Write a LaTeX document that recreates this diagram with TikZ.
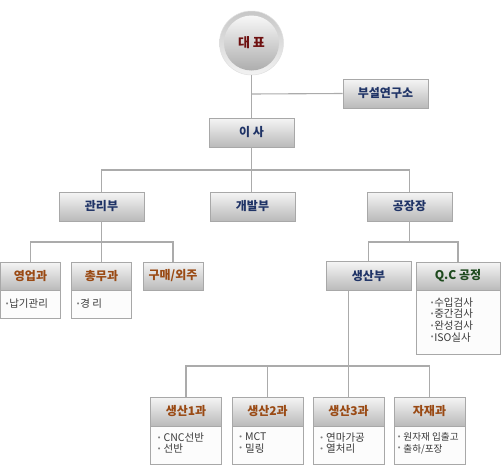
\documentclass[tikz,border=0pt]{standalone}
\usepackage{fontspec}
\setmainfont{Noto Sans CJK KR}
\newfontfamily\symf{DejaVu Sans}
\definecolor{navy}{HTML}{1F3366}
\definecolor{brownt}{HTML}{9A4A14}
\definecolor{greent}{HTML}{1E4A1E}
\definecolor{redt}{HTML}{6E1010}
\definecolor{linegray}{HTML}{ABABAB}
\definecolor{boxborder}{HTML}{A8A8A8}
\definecolor{bodytext}{HTML}{3A3A3A}
\newcommand{\bul}{{\color{gray}\symf\fontsize{7}{7}\selectfont\raisebox{0.35ex}{•}}}
\tikzset{
  conn/.style={draw=linegray, line width=1.1pt},
  hbox/.style={draw=boxborder, line width=0.9pt, top color=white!96!black, bottom color=white!73!black,
    inner sep=0pt, font=\fontsize{12}{14}\selectfont\bfseries},
  mainbox/.style={hbox, minimum width=85pt, minimum height=29pt, text=navy},
  subhead/.style={hbox, minimum width=60pt, minimum height=28pt, text=brownt},
  prodhead/.style={hbox, minimum width=71pt, minimum height=29pt, text=brownt},
  bodybox/.style={draw=boxborder, line width=0.9pt, fill=white!99!black, inner sep=0pt},
  bodytxt/.style={inner sep=0pt, anchor=north west, align=left, text=bodytext,
    font=\fontsize{10.5}{11.6}\selectfont},
}
\begin{document}
\begin{tikzpicture}[x=1pt,y=-1pt]
\useasboundingbox (0,0) rectangle (501,474);
\fill[white] (0,0) rectangle (501,474);

% representative circle
\node[circle, minimum size=64pt, inner sep=0pt, top color=white!78!black, bottom color=white!95!black,
  draw=white!88!black, line width=0.5pt] (rep) at (251.5,43) {};
\node[circle, minimum size=55pt, inner sep=0pt, top color=white!97!black, bottom color=white!68!black,
  font=\fontsize{13}{15}\selectfont\bfseries, text=redt] (repin) at (251.5,43) {대 표};

% main boxes
\node[mainbox] (lab) at (385.5,93.5) {부설연구소};
\node[mainbox] (isa) at (251.5,132.5) {이 사};
\node[mainbox] (gwan) at (101.5,206.5) {관리부};
\node[mainbox] (gaebal) at (252.5,206.5) {개발부};
\node[mainbox] (gong) at (409.5,206.5) {공장장};

% 관리부 children
\node[bodybox, minimum width=60pt, minimum height=28pt] (yeongupb) at (30.5,304) {};
\node[subhead] (yeongup) at (30.5,276) {영업과};
\node[bodytxt, anchor=west] (yeongupt) at (5,304) {\bul 납기관리};

\node[bodybox, minimum width=60pt, minimum height=28pt] (chongmub) at (101.5,304) {};
\node[subhead] (chongmu) at (101.5,276) {총무과};
\node[bodytxt, anchor=west] (chongmut) at (76,304) {\bul 경 리};

\node[subhead] (gumae) at (173,276) {구매/외주};

% 공장장 children
\node[mainbox] (saengsan) at (368.5,276) {생산부};
\node[bodybox, minimum width=84pt, minimum height=64pt] (qcb) at (458,322) {};
\node[hbox, minimum width=84pt, minimum height=28pt, text=greent] (qc) at (458,276) {Q.C 공정};
\node[bodytxt] (qct) at (430,297.5) {\bul 수입검사\\\bul 중간검사\\\bul 완성검사\\\bul ISO실사};

% 생산부 children
\node[bodybox, minimum width=71pt, minimum height=38pt] (s1b) at (186,445) {};
\node[prodhead] (s1) at (186,411.5) {생산1과};
\node[bodytxt] (s1t) at (157,432.5) {\bul\ CNC선반\\\bul\ 선반};

\node[bodybox, minimum width=71pt, minimum height=38pt] (s2b) at (267.5,445) {};
\node[prodhead] (s2) at (267.5,411.5) {생산2과};
\node[bodytxt] (s2t) at (238.5,432.5) {\bul\ MCT\\\bul\ 밀링};

\node[bodybox, minimum width=71pt, minimum height=38pt] (s3b) at (348.5,445) {};
\node[prodhead] (s3) at (348.5,411.5) {생산3과};
\node[bodytxt] (s3t) at (319.5,432.5) {\bul\ 연마가공\\\bul\ 열처리};

\node[bodybox, minimum width=71pt, minimum height=38pt] (jajaeb) at (429.5,445) {};
\node[prodhead] (jajae) at (429.5,411.5) {자재과};
\node[bodytxt, font=\fontsize{9.6}{11.6}\selectfont] (jajaet) at (397,432.5) {\bul\ 원자재 입출고\\\bul\ 출하/포장};

% connectors
\coordinate (j1) at (251.5,94);
\coordinate (j2) at (251.5,170);
\coordinate (j3) at (101.5,242);
\coordinate (j4) at (409.5,242);
\coordinate (j5) at (348.5,366);

\draw[conn] (rep.south) -- (isa.north);
\draw[conn] (j1) -- (lab.west);
\draw[conn] (isa.south) -- (j2);
\draw[conn] (gwan.north) |- (j2) -| (gong.north);
\draw[conn] (j2) -- (gaebal.north -| j2);
\draw[conn] (gwan.south) -- (chongmu.north);
\draw[conn] (yeongup.north) |- (j3) -| (gumae.north);
\draw[conn] (gong.south) -- (j4);
\draw[conn] (saengsan.north) |- (j4) -| (qc.north);
\draw[conn] (saengsan.south -| j5) -- (j5);
\draw[conn] (s1.north) |- (j5) -| (jajae.north);
\draw[conn] (s2.north) -- (s2.north |- j5);
\draw[conn] (s3.north) -- (j5);
\end{tikzpicture}
\end{document}
